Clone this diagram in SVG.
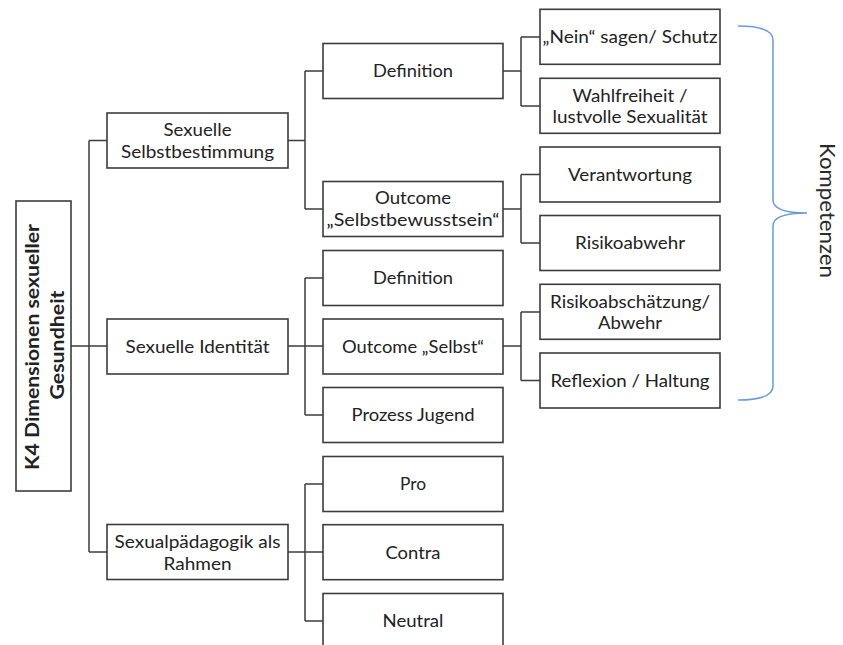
<svg xmlns="http://www.w3.org/2000/svg" width="843" height="645" viewBox="0 0 843 645">
  <style>
    .box { fill: #ffffff; stroke: #3c3c3c; stroke-width: 1.6; }
    .lbl { font-family: Lato, "Open Sans", "Liberation Sans", sans-serif; font-size: 17.5px; fill: #222222; text-anchor: middle; }
    .root { font-weight: bold; font-size: 19px; }
    .wire { fill: none; stroke: #3c3c3c; stroke-width: 1.5; }
    .brace { fill: none; stroke: #6a9bd8; stroke-width: 1.5; }
    .side { font-family: Lato, "Open Sans", "Liberation Sans", sans-serif; font-size: 21px; fill: #2a2a2a; text-anchor: middle; }
  </style>

  <!-- connectors -->
  <g id="connectors" class="wire">
    <!-- root to first level -->
    <path d="M71,346 H107 M89,140.5 V552 M89,140.5 H107 M89,552 H107"/>
    <!-- Sexuelle Selbstbestimmung -->
    <path d="M288,140.5 H305 M305,71 V209 M305,71 H323 M305,209 H323"/>
    <!-- Sexuelle Identität -->
    <path d="M288,346 H323 M305,278 V415 M305,278 H323 M305,415 H323"/>
    <!-- Sexualpädagogik als Rahmen -->
    <path d="M288,552 H323 M305,484 V621 M305,484 H323 M305,621 H323"/>
    <!-- Definition -->
    <path d="M503,71 H521 M521,37 V106 M521,37 H540 M521,106 H540"/>
    <!-- Outcome Selbstbewusstsein -->
    <path d="M503,209 H521 M521,174.5 V243 M521,174.5 H540 M521,243 H540"/>
    <!-- Outcome Selbst -->
    <path d="M503,346 H521 M521,312 V380.5 M521,312 H540 M521,380.5 H540"/>
  </g>

  <!-- root -->
  <g id="root">
    <rect class="box" x="16" y="201" width="55" height="290"/>
    <text class="lbl root" transform="translate(38.5,347) rotate(-90)" textLength="246" lengthAdjust="spacingAndGlyphs">K4 Dimensionen sexueller</text>
    <text class="lbl root" transform="translate(63.5,345) rotate(-90)" textLength="109" lengthAdjust="spacingAndGlyphs">Gesundheit</text>
  </g>

  <!-- first level -->
  <g id="selbstbestimmung">
    <rect class="box" x="107" y="113" width="181" height="55"/>
    <text class="lbl" x="197.5" y="136" textLength="68" lengthAdjust="spacingAndGlyphs">Sexuelle</text>
    <text class="lbl" x="197.5" y="158" textLength="153" lengthAdjust="spacingAndGlyphs">Selbstbestimmung</text>
  </g>
  <g id="identitaet">
    <rect class="box" x="107" y="319" width="181" height="55"/>
    <text class="lbl" x="197.5" y="352.5" textLength="144" lengthAdjust="spacingAndGlyphs">Sexuelle Identität</text>
  </g>
  <g id="sexualpaedagogik">
    <rect class="box" x="107" y="524.5" width="181" height="55"/>
    <text class="lbl" x="197.5" y="547.5" textLength="166" lengthAdjust="spacingAndGlyphs">Sexualpädagogik als</text>
    <text class="lbl" x="197.5" y="569.5" textLength="68" lengthAdjust="spacingAndGlyphs">Rahmen</text>
  </g>

  <!-- second level -->
  <g id="definition-1">
    <rect class="box" x="323" y="43.5" width="180" height="55"/>
    <text class="lbl" x="413" y="77.3" textLength="80" lengthAdjust="spacingAndGlyphs">Definition</text>
  </g>
  <g id="outcome-selbstbewusstsein">
    <rect class="box" x="323" y="181.5" width="180" height="55"/>
    <text class="lbl" x="413" y="204" textLength="76" lengthAdjust="spacingAndGlyphs">Outcome</text>
    <text class="lbl" x="413" y="226" textLength="173" lengthAdjust="spacingAndGlyphs">„Selbstbewusstsein“</text>
  </g>
  <g id="definition-2">
    <rect class="box" x="323" y="250.5" width="180" height="55"/>
    <text class="lbl" x="413" y="284.3" textLength="80" lengthAdjust="spacingAndGlyphs">Definition</text>
  </g>
  <g id="outcome-selbst">
    <rect class="box" x="323" y="319" width="180" height="55"/>
    <text class="lbl" x="413" y="352.8" textLength="142" lengthAdjust="spacingAndGlyphs">Outcome „Selbst“</text>
  </g>
  <g id="prozess-jugend">
    <rect class="box" x="323" y="387.5" width="180" height="55"/>
    <text class="lbl" x="413" y="421.3" textLength="123" lengthAdjust="spacingAndGlyphs">Prozess Jugend</text>
  </g>
  <g id="pro">
    <rect class="box" x="323" y="456.5" width="180" height="55"/>
    <text class="lbl" x="413" y="490.3" textLength="26" lengthAdjust="spacingAndGlyphs">Pro</text>
  </g>
  <g id="contra">
    <rect class="box" x="323" y="524.7" width="180" height="55"/>
    <text class="lbl" x="413" y="558.5" textLength="55" lengthAdjust="spacingAndGlyphs">Contra</text>
  </g>
  <g id="neutral">
    <rect class="box" x="323" y="593.5" width="180" height="55"/>
    <text class="lbl" x="413" y="627.3" textLength="61" lengthAdjust="spacingAndGlyphs">Neutral</text>
  </g>

  <!-- third level -->
  <g id="nein-sagen">
    <rect class="box" x="540" y="9.3" width="180" height="55"/>
    <text class="lbl" x="630" y="43.3" textLength="175" lengthAdjust="spacingAndGlyphs">„Nein“ sagen/ Schutz</text>
  </g>
  <g id="wahlfreiheit">
    <rect class="box" x="540" y="78.3" width="180" height="55"/>
    <text class="lbl" x="630" y="101.5" textLength="115" lengthAdjust="spacingAndGlyphs">Wahlfreiheit /</text>
    <text class="lbl" x="630" y="123.3" textLength="155" lengthAdjust="spacingAndGlyphs">lustvolle Sexualität</text>
  </g>
  <g id="verantwortung">
    <rect class="box" x="540" y="147" width="180" height="55"/>
    <text class="lbl" x="630" y="180.8" textLength="124" lengthAdjust="spacingAndGlyphs">Verantwortung</text>
  </g>
  <g id="risikoabwehr">
    <rect class="box" x="540" y="215.5" width="180" height="55"/>
    <text class="lbl" x="630" y="249.3" textLength="110" lengthAdjust="spacingAndGlyphs">Risikoabwehr</text>
  </g>
  <g id="risikoabschaetzung">
    <rect class="box" x="540" y="284.3" width="180" height="55"/>
    <text class="lbl" x="630" y="307.5" textLength="160" lengthAdjust="spacingAndGlyphs">Risikoabschätzung/</text>
    <text class="lbl" x="630" y="329.3" textLength="64" lengthAdjust="spacingAndGlyphs">Abwehr</text>
  </g>
  <g id="reflexion">
    <rect class="box" x="540" y="353" width="180" height="55"/>
    <text class="lbl" x="630" y="386.8" textLength="159" lengthAdjust="spacingAndGlyphs">Reflexion / Haltung</text>
  </g>

  <!-- competence brace -->
  <g id="kompetenzen">
    <path class="brace" d="M738,26 Q773,26 773,40 L773,200 Q773,213 807,213 Q773,213 773,226 L773,386 Q773,400 738,400"/>
    <text class="side" transform="translate(820,210.5) rotate(90)" textLength="135" lengthAdjust="spacingAndGlyphs">Kompetenzen</text>
  </g>
</svg>
